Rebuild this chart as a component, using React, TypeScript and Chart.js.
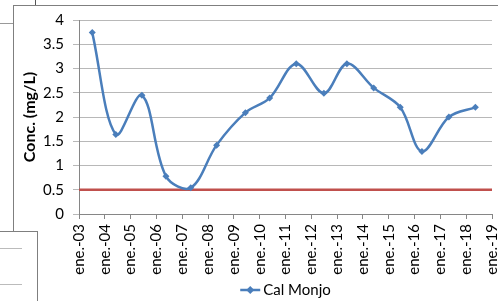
import React, { useEffect, useRef } from "react";
import { Chart, registerables } from "chart.js";

Chart.register(...registerables);

const seriesName = "Cal Monjo";
const sampleDates = [
  "2003-07-07", "2004-06-05", "2005-06-10", "2006-05-15", "2007-05-01", "2008-05-01",
  "2009-06-13", "2010-05-22", "2011-06-02", "2012-06-27", "2013-05-19", "2014-06-02",
  "2015-06-13", "2016-04-15", "2017-05-01", "2018-05-11",
];
const concValues = [3.74, 1.64, 2.45, 0.78, 0.54, 1.42, 2.09, 2.39, 3.1, 2.49, 3.1, 2.6, 2.2, 1.29, 2.0, 2.2];
const limitValue = 0.5;
const xStartYear = 2003;
const xEndYear = 2019;
const yMin = 0;
const yMax = 4;
const yStep = 0.5;
const yTitle = "Conc. (mg/L)";
const tickPrefix = "ene.-";

const FONT = "Lato";
const BLUE = "#4A7EBB";
const RED = "#C0504D";

function toDecimalYear(iso: string): number {
  const d = new Date(iso + "T00:00:00Z");
  const y = d.getUTCFullYear();
  const start = Date.UTC(y, 0, 1);
  const end = Date.UTC(y + 1, 0, 1);
  return y + (d.getTime() - start) / (end - start);
}

// Bottom legend drawn by a small plugin: line + diamond marker and series name
const bottomLegend = {
  id: "bottomLegend",
  afterDraw(chart: any) {
    const { ctx, chartArea } = chart;
    const ds = chart.data.datasets[0];
    const font = `15px ${FONT}`;
    ctx.save();
    ctx.font = font;
    const tw = ctx.measureText(ds.label).width;
    const lineW = 20;
    const gap = 3;
    const total = lineW + gap + tw;
    const cx = (chartArea.left + chartArea.right) / 2;
    const x0 = cx - total / 2;
    const y = chart.height - 11;
    ctx.strokeStyle = ds.borderColor;
    ctx.lineWidth = 2.5;
    ctx.beginPath();
    ctx.moveTo(x0, y);
    ctx.lineTo(x0 + lineW, y);
    ctx.stroke();
    ctx.fillStyle = ds.borderColor;
    ctx.beginPath();
    ctx.moveTo(x0 + lineW / 2, y - 4);
    ctx.lineTo(x0 + lineW / 2 + 4, y);
    ctx.lineTo(x0 + lineW / 2, y + 4);
    ctx.lineTo(x0 + lineW / 2 - 4, y);
    ctx.closePath();
    ctx.fill();
    ctx.fillStyle = "#000";
    ctx.textBaseline = "middle";
    ctx.textAlign = "left";
    ctx.fillText(ds.label, x0 + lineW + gap, y);
    ctx.restore();
  },
};

export default function App() {
  const ref = useRef<HTMLCanvasElement | null>(null);

  useEffect(() => {
    if (!ref.current) return;
    const points = sampleDates.map((d, i) => ({ x: toDecimalYear(d), y: concValues[i] }));
    const chart = new Chart(ref.current, {
      type: "line",
      data: {
        datasets: [
          {
            label: seriesName,
            data: points,
            borderColor: BLUE,
            backgroundColor: BLUE,
            borderWidth: 2.5,
            tension: 0.35,
            pointStyle: "rectRot",
            pointRadius: 3.5,
            pointBackgroundColor: BLUE,
            pointBorderColor: BLUE,
            pointBorderWidth: 0,
          },
          {
            label: "limit",
            data: [
              { x: xStartYear, y: limitValue },
              { x: xEndYear, y: limitValue },
            ],
            borderColor: RED,
            backgroundColor: RED,
            borderWidth: 2.5,
            pointRadius: 0,
            tension: 0,
          },
        ],
      },
      plugins: [bottomLegend],
      options: {
        responsive: false,
        animation: false,
        layout: { padding: { left: 16, top: 20, right: 6, bottom: 22 } },
        plugins: {
          tooltip: { enabled: false },
          legend: { display: false },
        },
        scales: {
          x: {
            type: "linear",
            min: xStartYear,
            max: xEndYear,
            grid: {
              drawOnChartArea: false,
              drawTicks: true,
              tickLength: 5,
              color: "#868686",
            },
            border: { display: true, color: "#868686", width: 1 },
            ticks: {
              stepSize: 1,
              autoSkip: false,
              minRotation: 90,
              maxRotation: 90,
              padding: 5,
              color: "#000",
              font: { family: FONT, size: 15 },
              callback: (v: any) => tickPrefix + String(v).slice(2),
            },
            afterFit: (s: any) => {
              s.height = 65;
              s.paddingLeft = 0;
              s.paddingRight = 0;
            },
          },
          y: {
            min: yMin,
            max: yMax,
            grid: {
              color: "#b8b8b8",
              lineWidth: 1,
              tickLength: 6,
            },
            border: { display: true, color: "#868686", width: 1 },
            ticks: {
              stepSize: yStep,
              padding: 9,
              color: "#000",
              font: { family: FONT, size: 15 },
              callback: (v: any) => String(Math.round(Number(v) * 10) / 10),
            },
            title: {
              display: true,
              text: yTitle,
              color: "#000",
              font: { family: FONT, size: 16, weight: "bold" },
              padding: { top: 4, bottom: 0 },
            },
            afterFit: (s: any) => {
              s.width = 63;
              s.paddingTop = 0;
              s.paddingBottom = 0;
            },
          },
        },
      },
    });
    return () => chart.destroy();
  }, []);

  const line = (style: React.CSSProperties) => (
    <div style={{ position: "absolute", background: "#7f7f7f", ...style }} />
  );

  return (
    <div style={{ position: "fixed", left: 0, top: 0, width: 498, height: 301, background: "#fff", overflow: "hidden" }}>
      <canvas ref={ref} width={498} height={301} style={{ position: "absolute", left: 0, top: 0 }} />
      {line({ left: 35, top: 0, width: 1, height: 5, background: "#555" })}
      {line({ left: 13, top: 5, width: 485, height: 1 })}
      {line({ left: 13, top: 5, width: 1, height: 226 })}
      {line({ left: 0, top: 23, width: 13, height: 1, background: "#999" })}
      {line({ left: 0, top: 231, width: 37, height: 1 })}
      {line({ left: 37, top: 231, width: 1, height: 70 })}
      {line({ left: 0, top: 248, width: 22, height: 1, background: "#bbb" })}
      {line({ left: 0, top: 284, width: 22, height: 1, background: "#bbb" })}
    </div>
  );
}
